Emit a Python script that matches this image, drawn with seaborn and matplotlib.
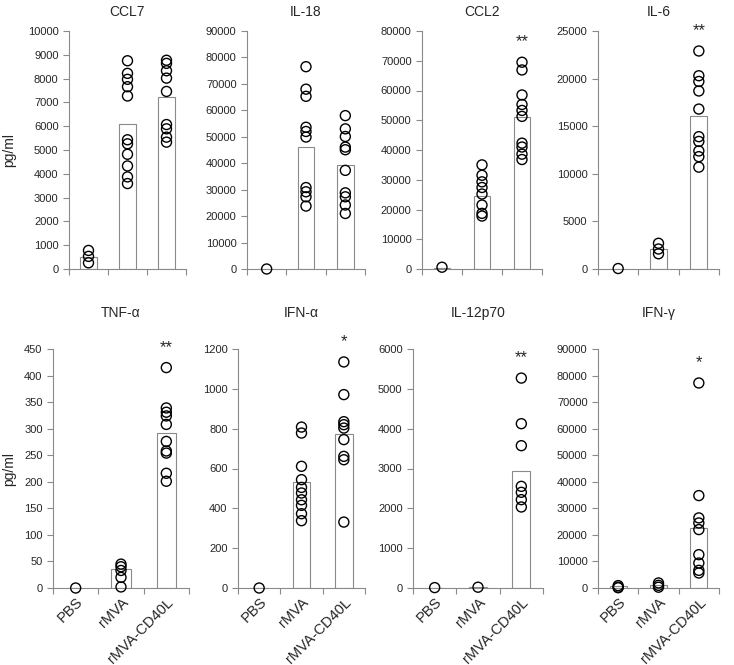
import pandas as pd
import matplotlib
matplotlib.use("Agg")
import matplotlib.pyplot as plt
import matplotlib.transforms as mtrans
import seaborn as sns

groups = ["PBS", "rMVA", "rMVA-CD40L"]
titles = ["CCL7", "IL-18", "CCL2", "IL-6", "TNF-α", "IFN-α", "IL-12p70", "IFN-γ"]
y_max = [10000, 90000, 80000, 25000, 450, 1200, 6000, 90000]
y_step = [1000, 10000, 10000, 5000, 50, 200, 1000, 10000]
stars = ["", "", "**", "**", "**", "*", "**", "*"]

# individual values (pg/ml) per group: PBS, rMVA, rMVA-CD40L
ccl7 = [[780, 530, 260],
        [8750, 8220, 7970, 7660, 7270, 5430, 5260, 4820, 4330, 3870, 3590],
        [8770, 8640, 8330, 8020, 7460, 6070, 5890, 5540, 5330]]
il18 = [[0],
        [76500, 68000, 65300, 53600, 52000, 49900, 30800, 29200, 27300, 23800],
        [58000, 53000, 50100, 46100, 45100, 37300, 28800, 27300, 24200, 21000]]
ccl2 = [[600],
        [35000, 31500, 29300, 27400, 25200, 21500, 18700, 17800],
        [69500, 66900, 58500, 55300, 53300, 51300, 42300, 41000, 38600, 36800]]
il6 = [[50],
       [2700, 2100, 1600],
       [22900, 20300, 19700, 18700, 16800, 13900, 13400, 12400, 11800, 10700]]
tnf = [[0],
       [45, 40, 33, 20, 2],
       [415, 339, 331, 324, 308, 276, 258, 254, 216, 201]]
ifna = [[0],
        [808, 778, 611, 544, 505, 477, 443, 415, 373, 338],
        [1135, 971, 835, 820, 803, 745, 661, 644, 331]]
il12 = [[10],
        [20],
        [5270, 4125, 3573, 2552, 2402, 2218, 2034]]
ifng = [[900, 300, 100],
        [1900, 1000, 300],
        [77200, 34800, 26400, 24500, 22000, 12550, 9400, 6650, 5650]]

# bar heights (group means)
ccl7_mean = [500, 6100, 7210]
il18_mean = [0, 46000, 39200]
ccl2_mean = [500, 24500, 51000]
il6_mean = [50, 2100, 16100]
tnf_mean = [0, 36, 292]
ifna_mean = [0, 530, 773]
il12_mean = [10, 20, 2937]
ifng_mean = [900, 1000, 22600]

points = [ccl7, il18, ccl2, il6, tnf, ifna, il12, ifng]
means = [ccl7_mean, il18_mean, ccl2_mean, il6_mean,
         tnf_mean, ifna_mean, il12_mean, ifng_mean]

sns.set_style("white")
plt.rcParams["font.family"] = ["Liberation Sans", "DejaVu Sans"]

W, H = 734, 665
fig = plt.figure(figsize=(W / 100, H / 100), dpi=100)

# panel boxes in pixels: left, right, top, bottom
boxes = [(69, 186, 31, 269), (247, 365, 31, 269), (422, 542, 31, 269), (598, 719, 31, 269),
         (53, 189, 349, 588), (238, 365, 349, 588), (413, 543, 349, 588), (598, 719, 349, 588)]

gray = "#8a8a8a"
shift = mtrans.ScaledTranslation(4 / 100, 0, fig.dpi_scale_trans)
for i in range(8):
    l, r, t, b = boxes[i]
    ax = fig.add_axes([l / W, 1 - b / H, (r - l) / W, (b - t) / H])

    pts = pd.DataFrame([(g, v) for g, vals in zip(groups, points[i]) for v in vals],
                       columns=["group", "value"])
    bars = pd.DataFrame({"group": groups, "value": means[i]})

    sns.barplot(data=bars, x="group", y="value", order=groups, color="white",
                edgecolor=gray, linewidth=0.8, width=0.42, errorbar=None, ax=ax)
    sns.stripplot(data=pts, x="group", y="value", order=groups, jitter=False,
                  color="white", edgecolor="black", linewidth=1.0, size=7.2,
                  zorder=3, ax=ax)
    for coll in ax.collections:
        coll.set_facecolor("none")
        coll.set_clip_on(False)

    ax.set_xlim(-0.5, 2.5)
    ax.set_ylim(0, y_max[i])
    ax.set_yticks(range(0, y_max[i] + 1, y_step[i]))
    ax.set_xticks([-0.5, 0.5, 1.5, 2.5])
    ax.set_xticklabels([])
    ax.set_xticks([0, 1, 2], minor=True)
    if i >= 4:
        labs = ax.set_xticklabels(groups, minor=True, rotation=45, ha="right",
                                  rotation_mode="anchor", fontsize=10.5)
        for lab in labs:
            lab.set_transform(lab.get_transform() + shift)
    else:
        ax.set_xticklabels([], minor=True)
    ax.tick_params(axis="x", which="minor", length=0, pad=5)
    ax.tick_params(axis="both", which="major", length=4, width=0.8, color=gray,
                   labelsize=8, direction="out", bottom=True, left=True)

    sns.despine(ax=ax)
    for s in ["left", "bottom"]:
        ax.spines[s].set_color(gray)
        ax.spines[s].set_linewidth(0.8)

    ax.set_xlabel("")
    ax.set_ylabel("")
    ax.set_title(titles[i], fontsize=10, pad=11 if i < 4 else 23)

    if i in (0, 4):
        ax.set_ylabel("pg/ml", fontsize=10)
        ax.yaxis.set_label_coords((16 - l) / (r - l), 0.5)

    if stars[i]:
        top = max(points[i][2])
        ax.text(2, top + 0.085 * y_max[i], stars[i], ha="center", va="center",
                fontsize=12, clip_on=False)

fig.savefig("out.png", dpi=100)
